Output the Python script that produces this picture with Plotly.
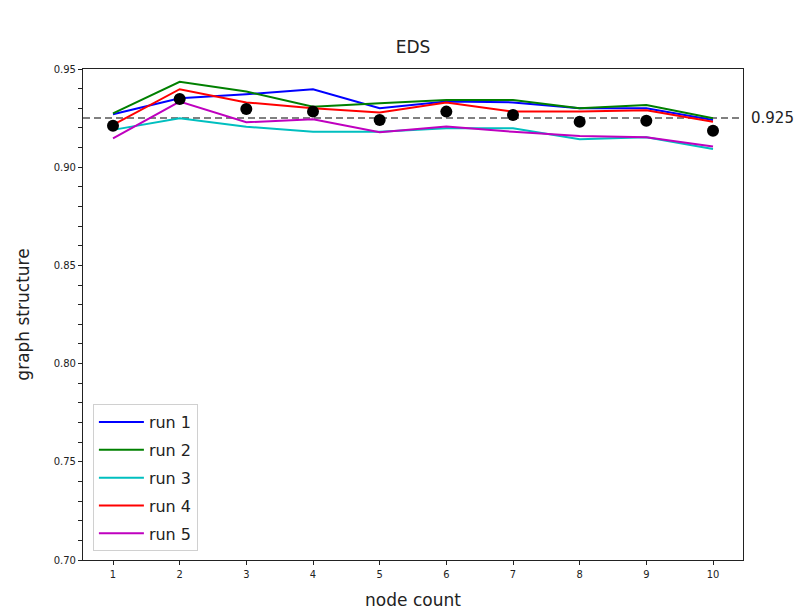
import plotly.graph_objects as go

node_count = [1, 2, 3, 4, 5, 6, 7, 8, 9, 10]

run_1 = [0.9270, 0.9351, 0.9371, 0.9397, 0.9300, 0.9334, 0.9330, 0.9300, 0.9300, 0.9240]
run_2 = [0.9274, 0.9435, 0.9385, 0.9308, 0.9325, 0.9342, 0.9342, 0.9300, 0.9317, 0.9249]
run_3 = [0.9190, 0.9249, 0.9206, 0.9180, 0.9180, 0.9198, 0.9198, 0.9142, 0.9152, 0.9093]
run_4 = [0.9215, 0.9397, 0.9330, 0.9300, 0.9278, 0.9330, 0.9283, 0.9283, 0.9290, 0.9232]
run_5 = [0.9147, 0.9334, 0.9229, 0.9244, 0.9178, 0.9207, 0.9180, 0.9159, 0.9152, 0.9105]
run_mean = [0.9211, 0.9347, 0.9296, 0.9283, 0.9240, 0.9283, 0.9266, 0.9232, 0.9237, 0.9186]

overall = 0.925

run_names = ["run 1", "run 2", "run 3", "run 4", "run 5"]
run_colors = ["#0000ff", "#008000", "#00bfbf", "#ff0000", "#bf00bf"]
runs = [run_1, run_2, run_3, run_4, run_5]

y_ticks = [round(0.70 + 0.01 * i, 2) for i in range(26)]
y_labels = [f"{v:.2f}" if round(v * 100) % 5 == 0 else "" for v in y_ticks]

fig = go.Figure()

# reference level across the whole x-range
fig.add_trace(go.Scatter(
    x=[0.55, 10.45], y=[overall, overall], mode="lines",
    line=dict(color="#808080", width=2, dash="7px,4px"),
    showlegend=False, hoverinfo="skip", cliponaxis=False,
))

for name, color, vals in zip(run_names, run_colors, runs):
    fig.add_trace(go.Scatter(
        x=node_count, y=vals, mode="lines", name=name, legendgroup=name,
        line=dict(color=color, width=2),
    ))

fig.add_trace(go.Scatter(
    x=node_count, y=run_mean, mode="markers", showlegend=False,
    marker=dict(color="black", size=12),
))

fig.add_annotation(
    x=1, xref="paper", xshift=6, y=overall, yref="y",
    text=f"{overall:.3f}", showarrow=False, xanchor="left", yanchor="middle",
    font=dict(size=15, color="#222222", family="DejaVu Sans"),
)

fig.update_layout(
    width=809, height=613,
    margin=dict(l=83, r=66, t=69, b=53),
    paper_bgcolor="white", plot_bgcolor="white",
    font=dict(family="DejaVu Sans", color="#222222"),
    title=dict(text="EDS", x=0.5, xanchor="center", y=1 - 47 / 613, yanchor="middle",
               xref="paper", font=dict(size=17, color="#222222")),
    xaxis=dict(
        range=[0.55, 10.45], tickvals=node_count, ticktext=[str(v) for v in node_count],
        ticks="outside", ticklen=4, tickcolor="#222222",
        tickfont=dict(size=11, family="DejaVu Sans Condensed"),
        showgrid=False, zeroline=False, showline=True, linecolor="#222222", linewidth=1.2,
        mirror=True, automargin=False,
        title=dict(text="node count", font=dict(size=17), standoff=13),
    ),
    yaxis=dict(
        range=[0.70, 0.95], tickvals=y_ticks, ticktext=y_labels,
        ticks="outside", ticklen=4, tickcolor="#222222",
        tickfont=dict(size=10, family="DejaVu Sans"),
        showgrid=False, zeroline=False, showline=True, linecolor="#222222", linewidth=1.2,
        mirror=True, automargin=False,
        title=dict(text="graph structure", font=dict(size=17), standoff=19),
    ),
    legend=dict(
        x=0.015, y=0.018, xanchor="left", yanchor="bottom",
        bgcolor="rgba(255,255,255,0.85)", bordercolor="#d0d0d0", borderwidth=1,
        font=dict(size=16, color="#222222"), tracegroupgap=4, itemwidth=45,
    ),
)

fig.write_html("out.html")
